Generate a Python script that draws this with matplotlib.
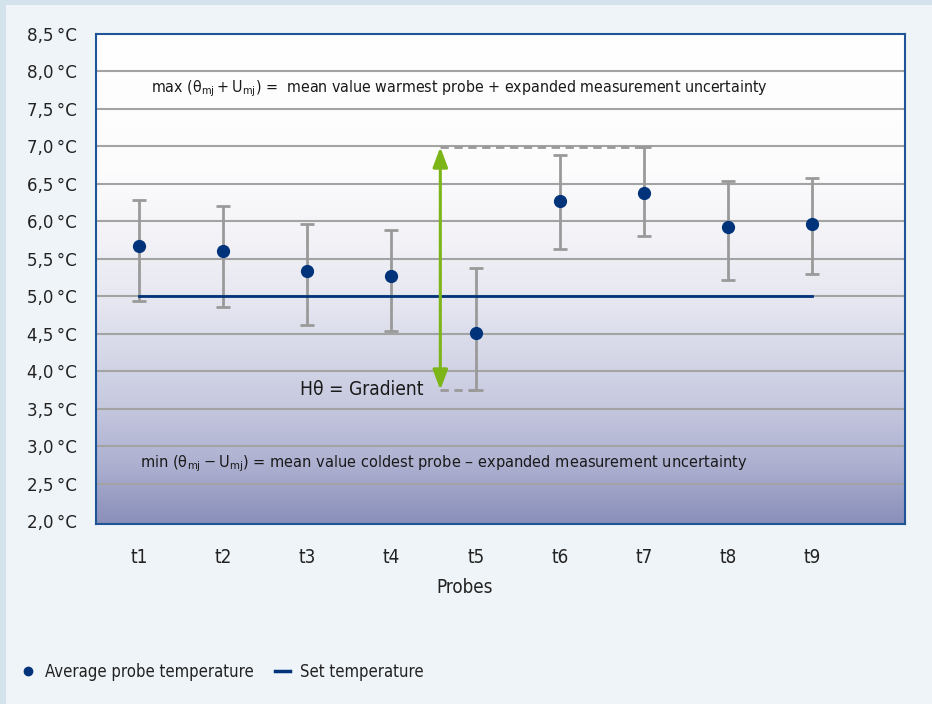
import numpy as np
import matplotlib
matplotlib.use("Agg")
import matplotlib.pyplot as plt
from matplotlib.colors import LinearSegmentedColormap
from matplotlib.patches import Rectangle
from matplotlib.lines import Line2D

plt.rcParams['font.family'] = ['DejaVu Sans']
plt.rcParams['font.stretch'] = 'condensed'

probes = ["t1", "t2", "t3", "t4", "t5", "t6", "t7", "t8", "t9"]
mean_temp = [5.67, 5.60, 5.34, 5.27, 4.51, 6.27, 6.38, 5.92, 5.97]
upper = [6.29, 6.21, 5.96, 5.89, 5.38, 6.89, 6.99, 6.54, 6.58]
lower = [4.93, 4.86, 4.61, 4.53, 3.75, 5.63, 5.81, 5.22, 5.30]
set_temp = 5.0
y_ticks = [2.0, 2.5, 3.0, 3.5, 4.0, 4.5, 5.0, 5.5, 6.0, 6.5, 7.0, 7.5, 8.0, 8.5]

DARK_BLUE = '#00337a'
GREY = '#9a9a9a'
GREEN = '#7cb518'
TXT = '#222222'

fig = plt.figure(figsize=(9.32, 7.04), dpi=100)
fig.patch.set_facecolor('#d3e2eb')
fig.patches.append(Rectangle((6 / 932, 0), 1, 1 - 5 / 704, transform=fig.transFigure,
                             facecolor='#eff4f8', edgecolor='none', zorder=-10))

ax = fig.add_axes([96 / 932, 1 - 524 / 704, (905 - 96) / 932, (524 - 34) / 704])
ax.set_zorder(2)

x = np.arange(1, len(probes) + 1)
ax.set_xlim(0.49, 10.1)
ax.set_ylim(1.96, 8.5)

# background gradient
cmap = LinearSegmentedColormap.from_list('bg', [
    (0.0, '#8a8fba'), (0.12, '#adb0d0'), (0.25, '#c8cae0'),
    (0.45, '#e5e6f0'), (0.6, '#f4f4f8'), (0.72, '#fcfcfd'), (1.0, '#ffffff')])
grad = np.linspace(0, 1, 256).reshape(-1, 1)
ax.imshow(grad, aspect='auto', cmap=cmap, origin='lower',
          extent=[0.49, 10.1, 1.96, 8.5], zorder=0)

for yv in y_ticks[1:-1]:
    ax.axhline(yv, color='#a3a3a3', lw=1.5, zorder=1)

# set temperature
ax.plot([x[0], x[-1]], [set_temp, set_temp], color=DARK_BLUE, lw=2, zorder=3)

# error bars + means
mean_arr = np.array(mean_temp)
yerr = [mean_arr - np.array(lower), np.array(upper) - mean_arr]
ax.errorbar(x, mean_temp, yerr=yerr, fmt='none', ecolor=GREY, elinewidth=2,
            capsize=5, capthick=2, zorder=2)
ax.plot(x, mean_temp, 'o', color=DARK_BLUE, ms=8.5, zorder=4)

# gradient arrow
hi = max(upper)
lo = min(lower)
x_arr = 4.58
i_hi = upper.index(hi) + 1
i_lo = lower.index(lo) + 1
ax.plot([x_arr, i_hi], [hi, hi], color=GREY, lw=2, ls=(0, (3, 2)), zorder=2)
ax.plot([x_arr, i_lo], [lo, lo], color=GREY, lw=2, ls=(0, (3, 2)), zorder=2)
ax.annotate('', xy=(x_arr, hi), xytext=(x_arr, lo),
            arrowprops=dict(arrowstyle='<|-|>,head_length=1.2,head_width=0.45',
                            color=GREEN, lw=2.2, shrinkA=0, shrinkB=0), zorder=5)

ax.text(4.38, lo, 'H\u03b8 = Gradient', fontsize=13.8, color='#1a1a1a',
        va='center', ha='right', zorder=5)
ax.text(1.14, 7.77, r'max ($\mathregular{\theta_{mj}+U_{mj}}$) =  mean value warmest probe + expanded measurement uncertainty',
        fontsize=11.4, color='#1a1a1a', va='center', ha='left', zorder=5)
ax.text(1.01, 2.77, r'min ($\mathregular{\theta_{mj}-U_{mj}}$) = mean value coldest probe' + ' \u2013 expanded measurement uncertainty',
        fontsize=11.7, color='#1a1a1a', va='center', ha='left', zorder=5)

ax.set_yticks(y_ticks)
ax.set_yticklabels([f"{v:.1f}".replace('.', ',') + '\u2009°C' for v in y_ticks],
                   fontsize=13.3, color=TXT)
ax.set_xticks(x)
ax.set_xticklabels(probes, fontsize=13.5, color=TXT)
ax.tick_params(axis='both', length=0)
ax.tick_params(axis='y', pad=14)
ax.tick_params(axis='x', pad=17)
ax.set_xlabel('Probes', fontsize=13.5, color=TXT, labelpad=8)
ax.xaxis.label.set_x((465 - 96) / 809)

for sp in ax.spines.values():
    sp.set_color('#1f5596')
    sp.set_linewidth(1.5)

handles = [
    Line2D([], [], marker='o', ls='none', color=DARK_BLUE, ms=6),
    Line2D([], [], color=DARK_BLUE, lw=2.5),
]
fig.legend(handles, ['Average probe temperature', 'Set temperature'],
           loc='center left', bbox_to_anchor=(20 / 932, 1 - 672 / 704),
           ncol=2, frameon=False, fontsize=12, handlelength=0.9,
           handletextpad=0.6, columnspacing=1.3, labelcolor=TXT,
           borderpad=0, borderaxespad=0)

fig.savefig('out.png', dpi=100, facecolor=fig.get_facecolor())
